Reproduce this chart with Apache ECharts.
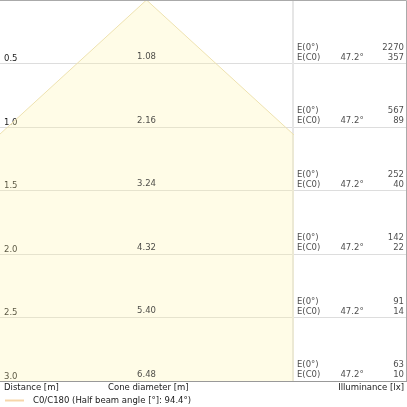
<!DOCTYPE html>
<html>
<head>
<meta charset="utf-8">
<script src="https://cdn.jsdelivr.net/npm/echarts@6/dist/echarts.min.js"></script>
<style>html,body{margin:0;padding:0;background:#fff}#c{width:407px;height:407px}</style>
</head>
<body>
<div id="c"></div>
<script>
var distances = [0.5, 1.0, 1.5, 2.0, 2.5, 3.0];
var coneDiameters = [1.08, 2.16, 3.24, 4.32, 5.40, 6.48];
var eCenter = [2270, 567, 252, 142, 91, 63];
var eC0 = [357, 89, 40, 22, 14, 10];
var halfAngle = 47.2;
var beamAngle = 94.4;
var legendName = 'C0/C180 (Half beam angle [°]: ' + beamAngle.toFixed(1) + '°)';

var FONT = 'DejaVu Sans';
var FS = 8.5;
var TXT = '#1a1a1a';

// cone outline from the diameters: left edge, apex, right edge
var conePts = [];
for (var i = distances.length - 1; i >= 0; i--) conePts.push([-coneDiameters[i] / 2, distances[i]]);
conePts.push([0, 0]);
for (var j = 0; j < distances.length; j++) conePts.push([coneDiameters[j] / 2, distances[j]]);

var chart = echarts.init(document.getElementById('c'), null, {renderer: 'canvas'});

function yAxisCommon(idx, showLabels) {
  return {
    type: 'value', gridIndex: idx, min: 0, max: 3, interval: 0.5, inverse: true,
    axisLine: {show: idx === 1, lineStyle: {color: '#e6e6e6', width: 2}},
    axisTick: {show: false},
    splitLine: {show: true, lineStyle: {color: '#dddddd', width: 1}},
    axisLabel: {
      show: showLabels, inside: true, margin: 4, verticalAlign: 'bottom',
      fontFamily: FONT, fontSize: FS, color: TXT,
      formatter: function (v) { return v === 0 ? '' : v.toFixed(1); }
    }
  };
}

var rightLabelBase = {fontFamily: FONT, fontSize: FS, color: TXT, lineHeight: 10, position: 'top', distance: 1};

chart.setOption({
  animation: false,
  textStyle: {fontFamily: FONT},
  grid: [
    {left: 0, top: 0, width: 293, height: 381},
    {left: 293, top: 0, width: 113, height: 381}
  ],
  xAxis: [
    {type: 'value', gridIndex: 0, min: -1.14, max: 1.14, show: false},
    {type: 'value', gridIndex: 1, min: 0, max: 1, show: false}
  ],
  yAxis: [yAxisCommon(0, true), yAxisCommon(1, false)],
  legend: {
    left: 5, top: 396, padding: 0, itemWidth: 19, itemHeight: 2, itemGap: 10,
    textStyle: {fontFamily: FONT, fontSize: FS, color: TXT, padding: [0, 0, 0, 4]},
    data: [{name: legendName, icon: 'rect', itemStyle: {color: '#f6d6aa'}}]
  },
  series: [
    {
      name: legendName, type: 'line', xAxisIndex: 0, yAxisIndex: 0,
      data: conePts, symbol: 'none', clip: true, z: 1,
      lineStyle: {color: '#eee2b0', width: 1},
      areaStyle: {origin: 'end', color: 'rgba(255,242,165,0.38)'}
    },
    {
      type: 'scatter', xAxisIndex: 0, yAxisIndex: 0, symbolSize: 0, z: 5,
      data: distances.map(function (d, i) { return [0, d, coneDiameters[i]]; }),
      label: {show: true, position: 'top', distance: 2, fontFamily: FONT, fontSize: FS, color: TXT,
        formatter: function (p) { return p.value[2].toFixed(2); }}
    },
    {
      type: 'scatter', xAxisIndex: 1, yAxisIndex: 1, symbolSize: 0, z: 5,
      data: distances.map(function (d) { return [0, d]; }),
      label: Object.assign({show: true, align: 'left', offset: [4, 0],
        formatter: function () { return 'E(0°)\nE(C0)'; }}, rightLabelBase)
    },
    {
      type: 'scatter', xAxisIndex: 1, yAxisIndex: 1, symbolSize: 0, z: 5,
      data: distances.map(function (d) { return [0.42, d]; }),
      label: Object.assign({show: true, align: 'left', offset: [0, 0],
        formatter: function () { return halfAngle.toFixed(1) + '°'; }}, rightLabelBase)
    },
    {
      type: 'scatter', xAxisIndex: 1, yAxisIndex: 1, symbolSize: 0, z: 5,
      data: distances.map(function (d, i) { return [1, d, eCenter[i], eC0[i]]; }),
      label: Object.assign({show: true, align: 'right', offset: [-2, 0],
        formatter: function (p) { return p.value[2] + '\n' + p.value[3]; }}, rightLabelBase)
    }
  ],
  graphic: [
    {type: 'polyline', z: 100, silent: true,
      shape: {points: [[0, 0.5], [406.5, 0.5], [406.5, 381.5]]},
      style: {stroke: '#aaaaaa', lineWidth: 1, fill: null}},
    {type: 'line', z: 100, silent: true,
      shape: {x1: 0, y1: 381.5, x2: 407, y2: 381.5},
      style: {stroke: '#999999', lineWidth: 1}},
    {type: 'text', left: 4, top: 383, style: {text: 'Distance [m]', font: FS + 'px "' + FONT + '"', fill: TXT}},
    {type: 'text', left: 108, top: 383, style: {text: 'Cone diameter [m]', font: FS + 'px "' + FONT + '"', fill: TXT}},
    {type: 'text', right: 3, top: 383, style: {text: 'Illuminance [lx]', font: FS + 'px "' + FONT + '"', fill: TXT}}
  ]
});
</script>
</body>
</html>
